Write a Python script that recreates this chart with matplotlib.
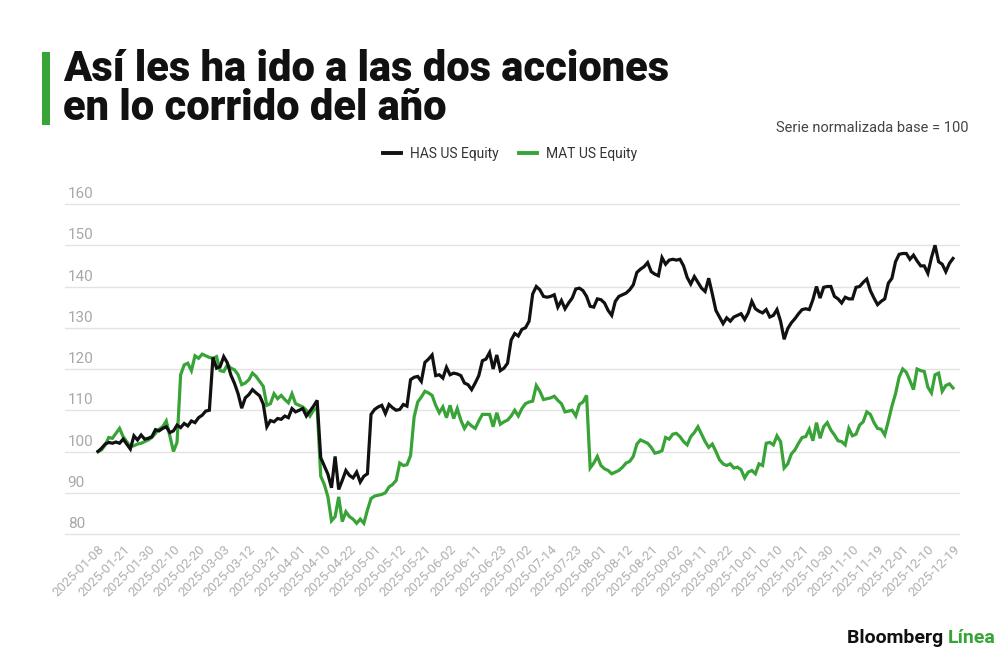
import numpy as np
import matplotlib
matplotlib.use("Agg")
import matplotlib.pyplot as plt
from matplotlib.lines import Line2D
from matplotlib.patches import Rectangle

plt.rcParams['font.family'] = ['Roboto', 'DejaVu Sans']

# one row = 7 trading days (one x tick interval), 2025-01-08 .. 2025-12-19
has_rows = [
    [100.0, 100.8, 101.8, 102.2, 102.0, 102.3, 102.0],
    [103.0, 101.8, 100.6, 103.8, 102.8, 104.0, 103.0],
    [103.2, 103.6, 105.3, 105.0, 105.6, 106.0, 104.6],
    [105.0, 106.4, 105.8, 106.8, 106.2, 107.4, 107.0],
    [108.2, 108.8, 109.8, 110.0, 122.8, 120.2, 120.6],
    [123.0, 121.5, 118.5, 116.5, 114.0, 110.5, 113.0],
    [113.8, 115.0, 114.2, 113.5, 111.5, 106.0, 107.5],
    [107.2, 108.0, 107.8, 108.6, 108.2, 110.4, 109.6],
    [110.0, 110.4, 108.6, 109.8, 111.0, 112.4, 98.5],
    [96.5, 94.5, 91.2, 98.8, 90.8, 93.0, 95.4],
    [94.2, 93.6, 95.0, 92.6, 94.0, 94.6, 109.0],
    [110.2, 110.8, 111.2, 109.2, 111.4, 110.6, 110.0],
    [110.2, 111.4, 111.0, 117.4, 118.0, 118.2, 117.0],
    [121.6, 122.4, 123.4, 118.4, 118.6, 117.8, 120.4],
    [118.6, 119.0, 118.8, 118.4, 116.6, 116.2, 115.0],
    [116.6, 118.4, 122.0, 122.4, 124.0, 120.0, 123.4],
    [119.6, 120.2, 121.4, 127.0, 128.6, 128.0, 129.6],
    [130.0, 131.6, 138.2, 140.0, 139.2, 137.6, 137.4],
    [137.6, 138.0, 135.0, 136.6, 134.6, 136.0, 137.2],
    [139.4, 139.6, 139.0, 137.6, 135.2, 135.0, 137.0],
    [136.8, 136.0, 134.2, 133.0, 136.4, 137.6, 138.0],
    [138.4, 139.2, 140.4, 143.4, 144.2, 144.8, 145.8],
    [143.6, 143.0, 142.6, 147.0, 145.4, 146.4, 146.6],
    [146.4, 146.6, 145.0, 142.2, 140.6, 142.4, 141.0],
    [139.6, 138.8, 142.0, 138.2, 134.2, 132.6, 131.0],
    [132.4, 131.6, 132.6, 133.0, 133.4, 132.0, 133.6],
    [136.4, 134.6, 134.0, 133.6, 134.4, 132.6, 133.0],
    [134.4, 131.6, 127.2, 129.8, 131.2, 132.2, 133.4],
    [134.4, 134.6, 134.4, 136.8, 140.0, 137.2, 139.8],
    [140.0, 140.0, 137.6, 137.0, 136.0, 137.4, 137.0],
    [137.0, 139.8, 140.0, 141.0, 141.8, 139.0, 137.2],
    [135.6, 136.4, 137.0, 140.8, 142.0, 146.0, 147.8],
    [148.0, 148.0, 146.6, 147.6, 146.2, 145.0, 145.0],
    [143.2, 147.0, 150.0, 146.0, 145.4, 143.6, 145.6],
    [146.8],
]

mat_rows = [
    [100.0, 100.4, 101.6, 103.4, 103.2, 104.4, 105.6],
    [103.6, 102.4, 101.2, 101.4, 101.8, 102.0, 102.4],
    [102.8, 103.4, 104.4, 105.4, 106.0, 107.4, 103.8],
    [100.0, 102.2, 118.6, 121.0, 121.4, 119.6, 123.2],
    [122.6, 123.6, 123.2, 122.8, 122.6, 123.0, 119.6],
    [119.4, 121.0, 120.2, 119.8, 118.6, 116.2, 116.6],
    [117.4, 119.0, 118.2, 117.0, 115.8, 111.2, 111.6],
    [114.0, 112.8, 113.6, 112.6, 111.8, 114.0, 111.6],
    [111.2, 110.8, 110.0, 108.6, 110.0, 110.6, 94.0],
    [92.0, 89.0, 83.2, 84.2, 89.0, 83.0, 85.4],
    [84.2, 83.6, 82.6, 83.6, 82.6, 85.8, 88.6],
    [89.2, 89.4, 89.6, 90.0, 91.4, 92.0, 93.0],
    [97.2, 96.6, 96.8, 99.0, 108.4, 112.0, 113.2],
    [114.6, 114.2, 113.6, 111.2, 109.4, 110.8, 108.2],
    [111.2, 108.0, 110.4, 107.6, 105.6, 107.0, 106.2],
    [105.6, 107.4, 109.0, 109.0, 109.0, 106.0, 109.4],
    [106.6, 107.2, 107.6, 108.6, 110.0, 108.6, 110.4],
    [111.6, 112.0, 112.2, 116.0, 114.6, 112.6, 112.8],
    [113.0, 113.4, 112.4, 111.6, 109.6, 109.8, 110.0],
    [108.6, 111.4, 112.0, 113.6, 96.0, 97.2, 98.8],
    [96.6, 95.8, 95.4, 94.6, 95.0, 95.4, 96.2],
    [97.2, 97.6, 98.8, 101.8, 102.8, 102.4, 102.0],
    [101.0, 99.6, 99.8, 100.2, 103.4, 103.0, 104.2],
    [104.4, 103.6, 102.4, 101.6, 103.6, 104.6, 106.0],
    [104.2, 102.4, 101.0, 101.8, 100.0, 98.0, 97.0],
    [96.6, 97.0, 96.0, 96.2, 95.6, 93.6, 95.0],
    [95.4, 94.6, 97.0, 96.6, 102.0, 102.2, 101.6],
    [103.8, 102.4, 96.0, 97.0, 99.4, 100.4, 102.0],
    [103.4, 103.6, 105.4, 102.6, 107.0, 103.2, 106.0],
    [107.0, 105.2, 104.0, 102.6, 102.4, 101.6, 105.6],
    [103.8, 104.2, 106.4, 107.2, 109.6, 109.0, 107.0],
    [105.6, 105.4, 104.0, 107.4, 111.0, 114.0, 118.0],
    [120.0, 119.2, 117.2, 115.0, 120.0, 119.6, 119.4],
    [115.6, 114.2, 118.6, 119.0, 114.6, 116.0, 116.4],
    [115.4],
]

tick_labels = [
    '2025-01-08', '2025-01-21', '2025-01-30', '2025-02-10', '2025-02-20',
    '2025-03-03', '2025-03-12', '2025-03-21', '2025-04-01', '2025-04-10',
    '2025-04-22', '2025-05-01', '2025-05-12', '2025-05-21', '2025-06-02',
    '2025-06-11', '2025-06-23', '2025-07-02', '2025-07-14', '2025-07-23',
    '2025-08-01', '2025-08-12', '2025-08-21', '2025-09-02', '2025-09-11',
    '2025-09-22', '2025-10-01', '2025-10-10', '2025-10-21', '2025-10-30',
    '2025-11-10', '2025-11-19', '2025-12-01', '2025-12-10', '2025-12-19',
]
y_ticks = [80, 90, 100, 110, 120, 130, 140, 150, 160]

has = np.array([v for row in has_rows for v in row])
mat = np.array([v for row in mat_rows for v in row])
x = np.arange(len(has))

BLACK = '#111111'
GREEN = '#38a336'
W, H = 1000, 651

fig = plt.figure(figsize=(W / 100, H / 100), dpi=100)
fig.patch.set_facecolor('white')

# plot box in pixels: 80 -> y=534, 160 -> y=204 ; x from 65 to 960
y_lo, y_hi = 79.5, 160.5
px_per_unit = (534 - 204) / 80
top_px = 204 - (y_hi - 160) * px_per_unit
bot_px = 534 + (80 - y_lo) * px_per_unit
ax = fig.add_axes([65 / W, 1 - bot_px / H, 895 / W, (bot_px - top_px) / H])
ax.set_ylim(y_lo, y_hi)
px_per_day = (953 - 98) / (len(x) - 1)
ax.set_xlim(-(98 - 65) / px_per_day, len(x) - 1 + (960 - 953) / px_per_day)

for s in ax.spines.values():
    s.set_visible(False)
ax.set_yticks(y_ticks)
ax.set_yticklabels([])
ax.tick_params(axis='y', length=0)
ax.grid(axis='y', color='#e3e3e3', linewidth=1.0)
ax.set_axisbelow(True)
for v in y_ticks:
    ax.text(0.003, v + 0.7, str(v), transform=ax.get_yaxis_transform(),
            ha='left', va='bottom', fontsize=11, color='#a8a8a8')

ax.plot(x, mat, color=GREEN, linewidth=2.3, solid_joinstyle='miter')
ax.plot(x, has, color=BLACK, linewidth=2.3, solid_joinstyle='miter')

ax.set_xticks(x[::7])
ax.set_xticklabels(tick_labels, rotation=45, ha='right', rotation_mode='anchor',
                   fontsize=9.5, color='#b0b0b0')
ax.tick_params(axis='x', length=0, pad=5)

# title (one text block, two lines; baseline refers to the last line)
fig.add_artist(Rectangle((42 / W, 1 - 125 / H), 8 / W, 73 / H,
                         transform=fig.transFigure, color=GREEN, lw=0))
fig.text(63 / W, 1 - 120 / H, 'Así les ha ido a las dos acciones\nen lo corrido del año',
         fontsize=30, fontweight='black', color='#111111', va='baseline', ha='left',
         linespacing=0.93)
fig.text(968 / W, 1 - 128 / H, 'Serie normalizada base = 100', fontsize=10.5,
         color='#444444', ha='right', va='center')

handles = [Line2D([], [], color=BLACK, lw=2.8), Line2D([], [], color=GREEN, lw=2.8)]
fig.legend(handles, ['HAS US Equity', 'MAT US Equity'], loc='center',
           bbox_to_anchor=(510 / W, 1 - 154 / H), ncol=2, frameon=False,
           fontsize=10, handlelength=1.3, handletextpad=0.6, columnspacing=1.5,
           labelcolor='#333333')

# footer brand
t1 = fig.text(847 / W, 1 - 638 / H, 'Bloomberg ', fontsize=14, fontweight='bold',
              color='#111111', ha='left', va='center')
fig.canvas.draw()
bb = t1.get_window_extent()
fig.text(bb.x1 / W, 1 - 638 / H, 'Línea', fontsize=14, fontweight='bold',
         color=GREEN, ha='left', va='center')

fig.savefig('out.png', dpi=100, facecolor='white')
